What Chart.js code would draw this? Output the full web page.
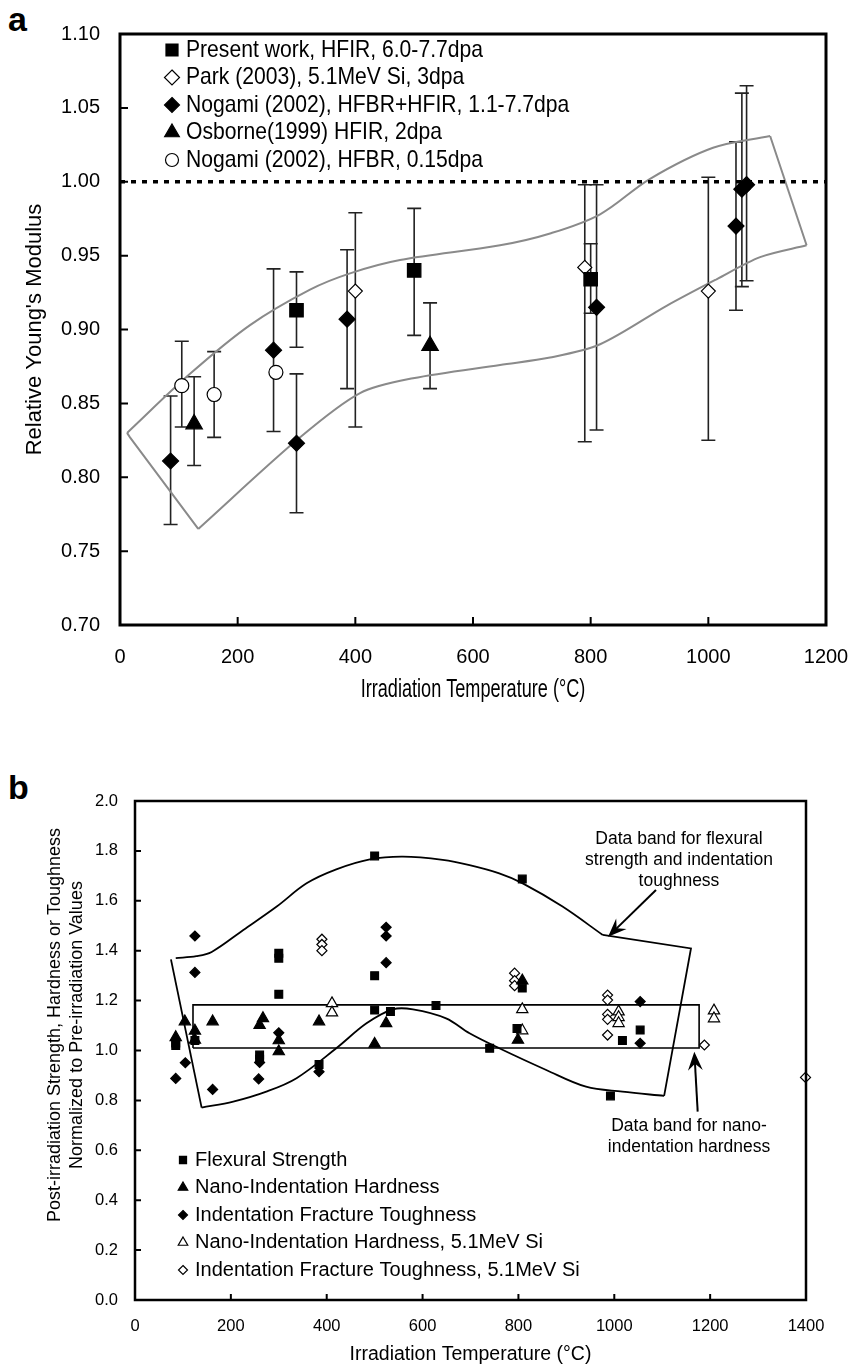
<!DOCTYPE html>
<html>
<head>
<meta charset="utf-8">
<script src="https://cdn.jsdelivr.net/npm/chart.js@4.4.1/dist/chart.umd.min.js"></script>
<style>
  body { margin: 0; background: #fff; width: 855px; height: 1366px; position: relative; overflow: hidden; }
  canvas { position: absolute; left: 0; }
  #chart-a { top: 0; }
  #chart-b { top: 760px; }
  .tag { position: absolute; left: 8px; font: bold 34px 'Liberation Sans', Arial, sans-serif; line-height: 1; }
</style>
</head>
<body>
<div class="tag" style="top:2px">a</div>
<div class="tag" style="top:770px">b</div>
<canvas id="chart-a" width="855" height="720"></canvas>
<canvas id="chart-b" width="855" height="606"></canvas>
<script>
const SANS = "'Liberation Sans', Arial, sans-serif";

// ---- panel a: relative Young's modulus ----
const presentT = [300, 500, 800];
const presentE = [0.913, 0.940, 0.934];
const presentLo = [0.888, 0.896, 0.911];
const presentHi = [0.939, 0.982, 0.958];

const parkT = [400, 790, 1000];
const parkE = [0.926, 0.942, 0.926];
const parkLo = [0.834, 0.824, 0.825];
const parkHi = [0.979, 0.998, 1.003];

const nogamiT = [86, 261, 300, 386, 810, 1047, 1057, 1065];
const nogamiE = [0.811, 0.886, 0.823, 0.907, 0.915, 0.970, 0.995, 0.998];
const nogamiLo = [0.768, 0.831, 0.776, 0.860, 0.832, 0.913, 0.929, 0.933];
const nogamiHi = [0.855, 0.941, 0.870, 0.954, 0.998, 1.027, 1.060, 1.065];

const osborneT = [126, 527];
const osborneE = [0.836, 0.889];
const osborneLo = [0.808, 0.860];
const osborneHi = [0.868, 0.918];

const hfbrT = [105, 160, 265];
const hfbrE = [0.862, 0.856, 0.871];
const hfbrLo = [0.834, 0.827, null];
const hfbrHi = [0.892, 0.885, null];

const bandAUpperT = [12, 119, 221, 323, 391, 476, 646, 731, 816, 901, 1008, 1105];
const bandAUpperV = [0.830, 0.870, 0.903, 0.927, 0.938, 0.947, 0.957, 0.965, 0.978, 1.002, 1.023, 1.031];
const bandALowerT = [17, 133, 306, 408, 498, 646, 731, 816, 929, 1014, 1088, 1167];
const bandALowerV = [0.827, 0.765, 0.827, 0.857, 0.867, 0.876, 0.881, 0.890, 0.916, 0.934, 0.949, 0.957];

const ticksA_T = [0, 200, 400, 600, 800, 1000, 1200];

// ---- panel b: strength, hardness, toughness ----
const flexT = [85, 85, 125, 260, 260, 300, 300, 300, 384, 500, 500, 500, 533, 628, 740, 797, 808, 808, 992, 1017, 1054];
const flexV = [1.03, 1.02, 1.04, 0.982, 0.965, 1.39, 1.37, 1.225, 0.944, 1.78, 1.30, 1.162, 1.156, 1.18, 1.009, 1.088, 1.25, 1.687, 0.818, 1.04, 1.082];

const hardT = [85, 104, 125, 125, 162, 260, 267, 300, 300, 384, 500, 524, 799, 808];
const hardV = [1.053, 1.116, 1.079, 1.042, 1.116, 1.102, 1.129, 1.04, 0.996, 1.116, 1.026, 1.109, 1.042, 1.28];

const toughT = [85, 105, 125, 125, 162, 258, 260, 300, 384, 524, 524, 524, 1054, 1054];
const toughV = [0.888, 0.951, 1.459, 1.313, 0.844, 0.886, 0.952, 1.071, 0.915, 1.494, 1.459, 1.352, 1.196, 1.029];

const hardSiT = [411, 411, 808, 808, 1009, 1009, 1009, 1208, 1208];
const hardSiV = [1.189, 1.152, 1.165, 1.08, 1.156, 1.133, 1.109, 1.16, 1.128];

const toughSiT = [390, 390, 390, 792, 792, 792, 986, 986, 986, 986, 986, 1188, 1399];
const toughSiV = [1.446, 1.425, 1.40, 1.31, 1.28, 1.26, 1.222, 1.202, 1.145, 1.125, 1.062, 1.022, 0.892];

const bandBUpperT = [85, 128, 160, 226, 295, 358, 420, 490, 559, 642, 698, 760, 809, 892, 976];
const bandBUpperV = [1.370, 1.378, 1.395, 1.483, 1.576, 1.67, 1.726, 1.766, 1.777, 1.764, 1.743, 1.710, 1.670, 1.577, 1.463];
const bandBRightT = [976, 1160, 1104];
const bandBRightV = [1.463, 1.409, 0.818];
const bandBLowerT = [75, 139, 205, 274, 337, 420, 483, 538, 580, 649, 698, 760, 858, 941, 1017, 1104];
const bandBLowerV = [1.365, 0.771, 0.795, 0.835, 0.889, 1.009, 1.109, 1.165, 1.165, 1.129, 1.069, 1.009, 0.922, 0.855, 0.835, 0.818];
const boxBT = [121, 1177, 1177, 121, 121];
const boxBV = [1.01, 1.01, 1.183, 1.183, 1.01];

const pts = (xs, ys) => xs.map((x, i) => ({ x, y: ys[i] }));

function mark(ctx, style, x, y, r, filled) {
  ctx.beginPath();
  if (style === 'rect') {
    const s = r * Math.SQRT1_2;
    ctx.rect(x - s, y - s, 2 * s, 2 * s);
  } else if (style === 'rectRot') {
    ctx.moveTo(x, y - r); ctx.lineTo(x + r, y); ctx.lineTo(x, y + r); ctx.lineTo(x - r, y); ctx.closePath();
  } else if (style === 'triangle') {
    for (let k = 0; k < 3; k++) {
      const a = k * 2 * Math.PI / 3;
      const px = x + Math.sin(a) * r, py = y - Math.cos(a) * r;
      k ? ctx.lineTo(px, py) : ctx.moveTo(px, py);
    }
    ctx.closePath();
  } else {
    ctx.arc(x, y, r, 0, Math.PI * 2);
  }
  ctx.fillStyle = filled ? '#000' : '#fff';
  ctx.fill();
  ctx.lineWidth = 1.2;
  ctx.strokeStyle = '#000';
  ctx.stroke();
}

// text squeezed sideways, for the narrow face used in panel a
function squeezed(ctx, text, x, y, sx, rotate = 0) {
  ctx.save();
  ctx.translate(x, y);
  ctx.rotate(rotate);
  ctx.scale(sx, 1);
  ctx.fillText(text, 0, 0);
  ctx.restore();
}

// box round the plot and inward tick marks
const frame = {
  id: 'frame',
  afterDraw(chart, args, opts) {
    const { ctx, chartArea: a, scales: { x, y } } = chart;
    ctx.save();
    ctx.strokeStyle = '#000';
    ctx.lineWidth = opts.tickWidth;
    ctx.beginPath();
    x.ticks.forEach((t) => {
      const px = x.getPixelForValue(t.value);
      if (px > a.left + 3 && px < a.right - 3) { ctx.moveTo(px, a.bottom); ctx.lineTo(px, a.bottom - opts.tick); }
    });
    y.ticks.forEach((t) => {
      const py = y.getPixelForValue(t.value);
      if (py > a.top + 3 && py < a.bottom - 3) { ctx.moveTo(a.left, py); ctx.lineTo(a.left + opts.tick, py); }
    });
    ctx.stroke();
    ctx.lineWidth = opts.width;
    ctx.strokeRect(a.left, a.top, a.right - a.left, a.bottom - a.top);
    ctx.restore();
  },
};

const errorBars = {
  id: 'errorBars',
  beforeDatasetsDraw(chart, args, opts) {
    const { ctx, scales: { x, y } } = chart;
    ctx.save();
    ctx.strokeStyle = opts.color;
    ctx.lineWidth = opts.width;
    chart.data.datasets.forEach((ds) => {
      if (!ds.errLo) return;
      ds.data.forEach((p, i) => {
        if (ds.errLo[i] == null) return;
        const px = x.getPixelForValue(p.x);
        const y1 = y.getPixelForValue(ds.errLo[i]);
        const y2 = y.getPixelForValue(ds.errHi[i]);
        ctx.beginPath();
        ctx.moveTo(px, y1); ctx.lineTo(px, y2);
        ctx.moveTo(px - opts.cap, y1); ctx.lineTo(px + opts.cap, y1);
        ctx.moveTo(px - opts.cap, y2); ctx.lineTo(px + opts.cap, y2);
        ctx.stroke();
      });
    });
    ctx.restore();
  },
};

// legend drawn inside the plot from the marker datasets
const key = {
  id: 'key',
  afterDraw(chart, args, opts) {
    const { ctx } = chart;
    ctx.save();
    ctx.font = opts.font;
    ctx.textBaseline = 'middle';
    chart.data.datasets.filter((ds) => ds.label).forEach((ds, i) => {
      const y = opts.y + i * opts.step;
      mark(ctx, ds.pointStyle, opts.mx, y, opts.r[ds.pointStyle], ds.backgroundColor === '#000');
      ctx.fillStyle = '#000';
      squeezed(ctx, ds.label, opts.tx, y, opts.sx || 1);
    });
    ctx.restore();
  },
};

// free captions (axis titles that need a squeezed face or an offset)
const captions = {
  id: 'captions',
  afterDraw(chart, args, opts) {
    const { ctx } = chart;
    ctx.save();
    ctx.fillStyle = '#000';
    ctx.textAlign = 'center';
    ctx.textBaseline = 'middle';
    opts.items.forEach((c) => {
      ctx.font = c.font;
      squeezed(ctx, c.text, c.x, c.y, c.sx || 1, c.rotate || 0);
    });
    ctx.restore();
  },
};

const notes = {
  id: 'notes',
  afterDraw(chart, args, opts) {
    const { ctx, scales: { x, y } } = chart;
    ctx.save();
    ctx.fillStyle = '#000';
    ctx.strokeStyle = '#000';
    ctx.font = opts.font;
    ctx.textAlign = 'center';
    ctx.textBaseline = 'middle';
    opts.texts.forEach((t) => {
      t.lines.forEach((s, i) => ctx.fillText(s, x.getPixelForValue(t.x), y.getPixelForValue(t.y) + i * opts.step));
    });
    opts.arrows.forEach((a) => {
      const x0 = x.getPixelForValue(a.from[0]), y0 = y.getPixelForValue(a.from[1]);
      const x1 = x.getPixelForValue(a.to[0]), y1 = y.getPixelForValue(a.to[1]);
      const ang = Math.atan2(y1 - y0, x1 - x0);
      ctx.lineWidth = 2;
      ctx.beginPath(); ctx.moveTo(x0, y0); ctx.lineTo(x1 - Math.cos(ang) * 8, y1 - Math.sin(ang) * 8); ctx.stroke();
      ctx.beginPath();
      ctx.moveTo(x1, y1);
      ctx.lineTo(x1 - Math.cos(ang - 0.38) * 20, y1 - Math.sin(ang - 0.38) * 20);
      ctx.lineTo(x1 - Math.cos(ang) * 12, y1 - Math.sin(ang) * 12);
      ctx.lineTo(x1 - Math.cos(ang + 0.38) * 20, y1 - Math.sin(ang + 0.38) * 20);
      ctx.closePath();
      ctx.fill();
    });
    ctx.restore();
  },
};

const marker = (label, t, v, style, filled, r, extra = {}) => ({
  label,
  data: pts(t, v),
  pointStyle: style,
  pointRadius: r,
  backgroundColor: filled ? '#000' : '#fff',
  borderColor: '#000',
  borderWidth: 1.2,
  showLine: false,
  clip: false,
  ...extra,
});

const curve = (t, v, color, width, tension, extra = {}) => ({
  data: pts(t, v),
  showLine: true,
  borderColor: color,
  borderWidth: width,
  pointRadius: 0,
  tension,
  ...extra,
});

const noEdgePad = (s) => { s.paddingLeft = 0; s.paddingRight = 0; s.paddingTop = 0; s.paddingBottom = 0; };

new Chart(document.getElementById('chart-a'), {
  type: 'scatter',
  data: {
    datasets: [
      marker('Present work, HFIR, 6.0-7.7dpa', presentT, presentE, 'rect', true, 9.5, { errLo: presentLo, errHi: presentHi }),
      marker('Park (2003), 5.1MeV Si, 3dpa', parkT, parkE, 'rectRot', false, 7, { errLo: parkLo, errHi: parkHi }),
      marker('Nogami (2002), HFBR+HFIR, 1.1-7.7dpa', nogamiT, nogamiE, 'rectRot', true, 8, { errLo: nogamiLo, errHi: nogamiHi }),
      marker('Osborne(1999) HFIR, 2dpa', osborneT, osborneE, 'triangle', true, 9.5, { errLo: osborneLo, errHi: osborneHi }),
      marker('Nogami (2002), HFBR, 0.15dpa', hfbrT, hfbrE, 'circle', false, 7, { errLo: hfbrLo, errHi: hfbrHi }),
      curve([0, 1200], [1, 1], '#000', 3.5, 0, { borderDash: [5, 6] }),
      curve(bandAUpperT, bandAUpperV, '#8a8a8a', 2, 0.35),
      curve(bandALowerT.slice(1), bandALowerV.slice(1), '#8a8a8a', 2, 0.3),
      curve([bandAUpperT[0], bandALowerT[0], bandALowerT[1]], [bandAUpperV[0], bandALowerV[0], bandALowerV[1]], '#8a8a8a', 2, 0),
      curve([bandAUpperT[11], bandALowerT[11]], [bandAUpperV[11], bandALowerV[11]], '#8a8a8a', 2, 0),
    ],
  },
  options: {
    responsive: false,
    animation: false,
    events: [],
    layout: { padding: { top: 34, right: 29, left: 0, bottom: 0 } },
    scales: {
      x: {
        type: 'linear',
        min: 0,
        max: 1200,
        afterFit: (s) => { s.height = 95; noEdgePad(s); },
        afterBuildTicks: (s) => { s.ticks = ticksA_T.map((value) => ({ value })); },
        grid: { display: false, drawTicks: false },
        border: { display: false },
        ticks: { padding: 20, color: '#000', font: { family: SANS, size: 20 }, callback: (v) => String(v) },
      },
      y: {
        min: 0.7,
        max: 1.1,
        afterFit: (s) => { s.width = 120; noEdgePad(s); },
        grid: { display: false, drawTicks: false },
        border: { display: false },
        ticks: { stepSize: 0.05, padding: 20, color: '#000', font: { family: SANS, size: 20 }, callback: (v) => v.toFixed(2) },
        title: { display: true, text: "Relative Young's Modulus", color: '#000', font: { family: SANS, size: 22 }, padding: { top: 22, bottom: 0 } },
      },
    },
    plugins: {
      legend: { display: false },
      tooltip: { enabled: false },
      frame: { width: 3, tick: 8, tickWidth: 2 },
      errorBars: { color: '#222', width: 1.6, cap: 7 },
      key: { font: `24px ${SANS}`, sx: 0.88, mx: 172, tx: 186, y: 50, step: 27.5, r: { rect: 8.5, rectRot: 7.5, triangle: 8.5, circle: 6.5 } },
      captions: { items: [{ text: 'Irradiation Temperature (°C)', font: `25.5px ${SANS}`, sx: 0.71, x: 473, y: 690 }] },
    },
  },
  plugins: [frame, errorBars, key, captions],
});

new Chart(document.getElementById('chart-b'), {
  type: 'scatter',
  data: {
    datasets: [
      marker('Flexural Strength', flexT, flexV, 'rect', true, 5.5),
      marker('Nano-Indentation Hardness', hardT, hardV, 'triangle', true, 6.5),
      marker('Indentation Fracture Toughness', toughT, toughV, 'rectRot', true, 5),
      marker('Nano-Indentation Hardness, 5.1MeV Si', hardSiT, hardSiV, 'triangle', false, 6.5),
      marker('Indentation Fracture Toughness, 5.1MeV Si', toughSiT, toughSiV, 'rectRot', false, 5),
      curve(bandBUpperT, bandBUpperV, '#000', 1.8, 0.35),
      curve(bandBRightT, bandBRightV, '#000', 1.8, 0),
      curve(bandBLowerT.slice(1), bandBLowerV.slice(1), '#000', 1.8, 0.35),
      curve(bandBLowerT.slice(0, 2), bandBLowerV.slice(0, 2), '#000', 1.8, 0),
      curve(boxBT, boxBV, '#000', 1.6, 0),
    ],
  },
  options: {
    responsive: false,
    animation: false,
    events: [],
    layout: { padding: { top: 41, right: 49, left: 0, bottom: 0 } },
    scales: {
      x: {
        type: 'linear',
        min: 0,
        max: 1400,
        afterFit: (s) => { s.height = 66; noEdgePad(s); },
        grid: { display: false, drawTicks: false },
        border: { display: false },
        ticks: { stepSize: 200, padding: 17, color: '#000', font: { family: SANS, size: 16.5 }, callback: (v) => String(v) },
        title: { display: true, text: 'Irradiation Temperature (°C)', color: '#000', font: { family: SANS, size: 19.5 }, padding: { top: 0, bottom: 0 } },
      },
      y: {
        min: 0,
        max: 2,
        afterFit: (s) => { s.width = 135; noEdgePad(s); },
        grid: { display: false, drawTicks: false },
        border: { display: false },
        ticks: { stepSize: 0.2, padding: 17, color: '#000', font: { family: SANS, size: 16.5 }, callback: (v) => v.toFixed(1) },
      },
    },
    plugins: {
      legend: { display: false },
      tooltip: { enabled: false },
      frame: { width: 2.5, tick: 6, tickWidth: 2 },
      key: { font: `20px ${SANS}`, mx: 183, tx: 195, y: 400, step: 27.5, r: { rect: 5, rectRot: 4.5, triangle: 5.5, circle: 4 } },
      captions: {
        items: [
          { text: 'Post-irradiation Strength, Hardness or Toughness', font: `18px ${SANS}`, x: 55, y: 265, rotate: -Math.PI / 2 },
          { text: 'Normalized to Pre-irradiation Values', font: `18px ${SANS}`, x: 77, y: 265, rotate: -Math.PI / 2 },
        ],
      },
      notes: {
        font: `17.5px ${SANS}`,
        step: 21,
        texts: [
          { x: 1135, y: 1.848, lines: ['Data band for flexural', 'strength and indentation', 'toughness'] },
          { x: 1156, y: 0.695, lines: ['Data band for nano-', 'indentation hardness'] },
        ],
        arrows: [
          { from: [1087, 1.643], to: [987, 1.456] },
          { from: [1174, 0.755], to: [1167, 0.995] },
        ],
      },
    },
  },
  plugins: [frame, key, captions, notes],
});
</script>
</body>
</html>
